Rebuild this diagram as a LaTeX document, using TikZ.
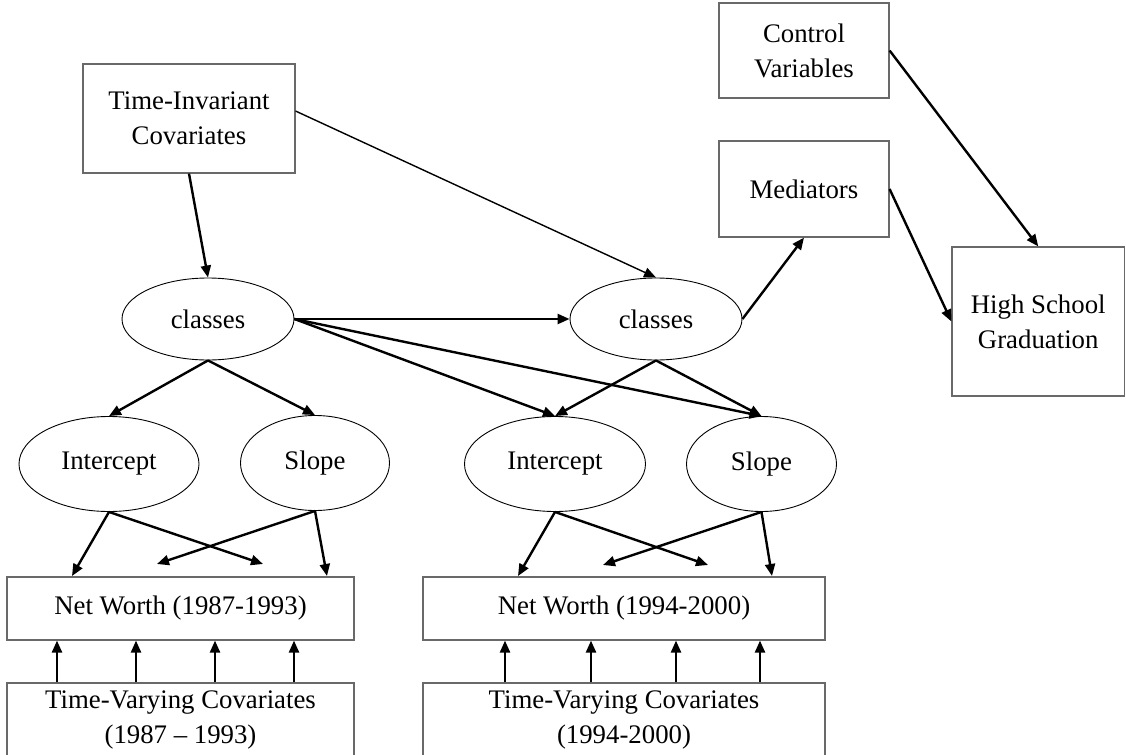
\documentclass[tikz,border=0pt]{standalone}
\usepackage{fontspec}
\setmainfont{Liberation Serif}
\usetikzlibrary{shapes.geometric, arrows.meta}
\tikzset{>={Triangle[length=6pt, width=5pt]}}
\definecolor{boxgray}{RGB}{105,105,105}
\tikzset{
	box/.style={draw=boxgray, line width=0.6pt, align=center, inner sep=0pt, font=\fontsize{13.4}{17.5}\selectfont},
	oval/.style={ellipse, draw, line width=0.45pt, inner sep=0pt, font=\fontsize{13.4}{17.5}\selectfont},
	arr/.style={->, line width=1.2pt}
}

\begin{document}
\begin{tikzpicture}[x=0.5pt, y=-0.5pt]
    \clip(0, 0) rectangle (1126, 755);
    \node[box, minimum width=106pt, minimum height=54.5pt](tic) at (189, 118.5){Time-Invariant\\Covariates};
    \node[box, minimum width=85pt, minimum height=47.5pt](ctrl) at (804, 50.5){Control\\Variables};
    \node[box, minimum width=85pt, minimum height=48pt](med) at (804, 189){Mediators};
    \node[box, minimum width=86.25pt, minimum height=74.5pt](hsg) at (1038.25, 321.5){High School\\Graduation};
    \node[oval, minimum width=86pt, minimum height=41pt](cls1) at (208, 319){classes};
    \node[oval, minimum width=86pt, minimum height=41pt](cls2) at (656, 319){classes};
    \node[oval, minimum width=90pt, minimum height=47.5pt](int1) at (109, 464){Intercept};
    \node[oval, minimum width=74.5pt, minimum height=47.5pt](slp1) at (315, 463){Slope};
    \node[oval, minimum width=90.5pt, minimum height=47.5pt](int2) at (555, 464){Intercept};
    \node[oval, minimum width=75pt, minimum height=47.5pt](slp2) at (761.5, 464){Slope};
    \node[box, minimum width=173.5pt, minimum height=31.5pt](nw1) at (180.5, 608.5){Net Worth (1987-1993)};
    \node[box, minimum width=201pt, minimum height=31.5pt](nw2) at (624, 608.5){Net Worth (1994-2000)};
    \node[box, minimum width=173.5pt, minimum height=37pt](tv1) at (180.5, 720){Time-Varying Covariates\\(1987 -- 1993)};
    \node[box, minimum width=201pt, minimum height=37pt](tv2) at (624, 720){Time-Varying Covariates\\(1994-2000)};
    \coordinate(a1) at (72, 576);
    \coordinate(b1) at (263, 564);
    \coordinate(c1) at (157, 564);
    \coordinate(d1) at (327, 576);
    \coordinate(a2) at (518, 576);
    \coordinate(b2) at (708, 565);
    \coordinate(c2) at (603, 565);
    \coordinate(d2) at (772, 576);

    \draw[arr](tic.south)--(cls1.north);
    \draw[->, line width=0.7pt](tic.4)--(cls2.north);
    \draw[arr](cls1.east)--(cls2.west);
    \draw[arr](cls1.east)--(int2.north);
    \draw[arr](cls1.east)--(slp2.north);
    \draw[arr](cls1.south)--(int1.north);
    \draw[arr](cls1.south)--(slp1.north);
    \draw[arr](cls2.south)--(int2.north);
    \draw[arr](cls2.south)--(slp2.north);
    \draw[arr](cls2.east)--(med.south);
    \draw[arr](med.east)--(hsg.west);
    \draw[arr](ctrl.east)--(hsg.north);
    \draw[arr](int1.south)--(a1);
    \draw[arr](int1.south)--(b1);
    \draw[arr](slp1.south)--(c1);
    \draw[arr](slp1.south)--(d1);
    \draw[arr](int2.south)--(a2);
    \draw[arr](int2.south)--(b2);
    \draw[arr](slp2.south)--(c2);
    \draw[arr](slp2.south)--(d2);
    \foreach \x in {57, 136, 215, 294}
        \draw[arr](tv1.north -| \x,0)--(nw1.south -| \x,0);
    \foreach \x in {505, 591, 676, 760}
        \draw[arr](tv2.north -| \x,0)--(nw2.south -| \x,0);
\end{tikzpicture}
\end{document}
